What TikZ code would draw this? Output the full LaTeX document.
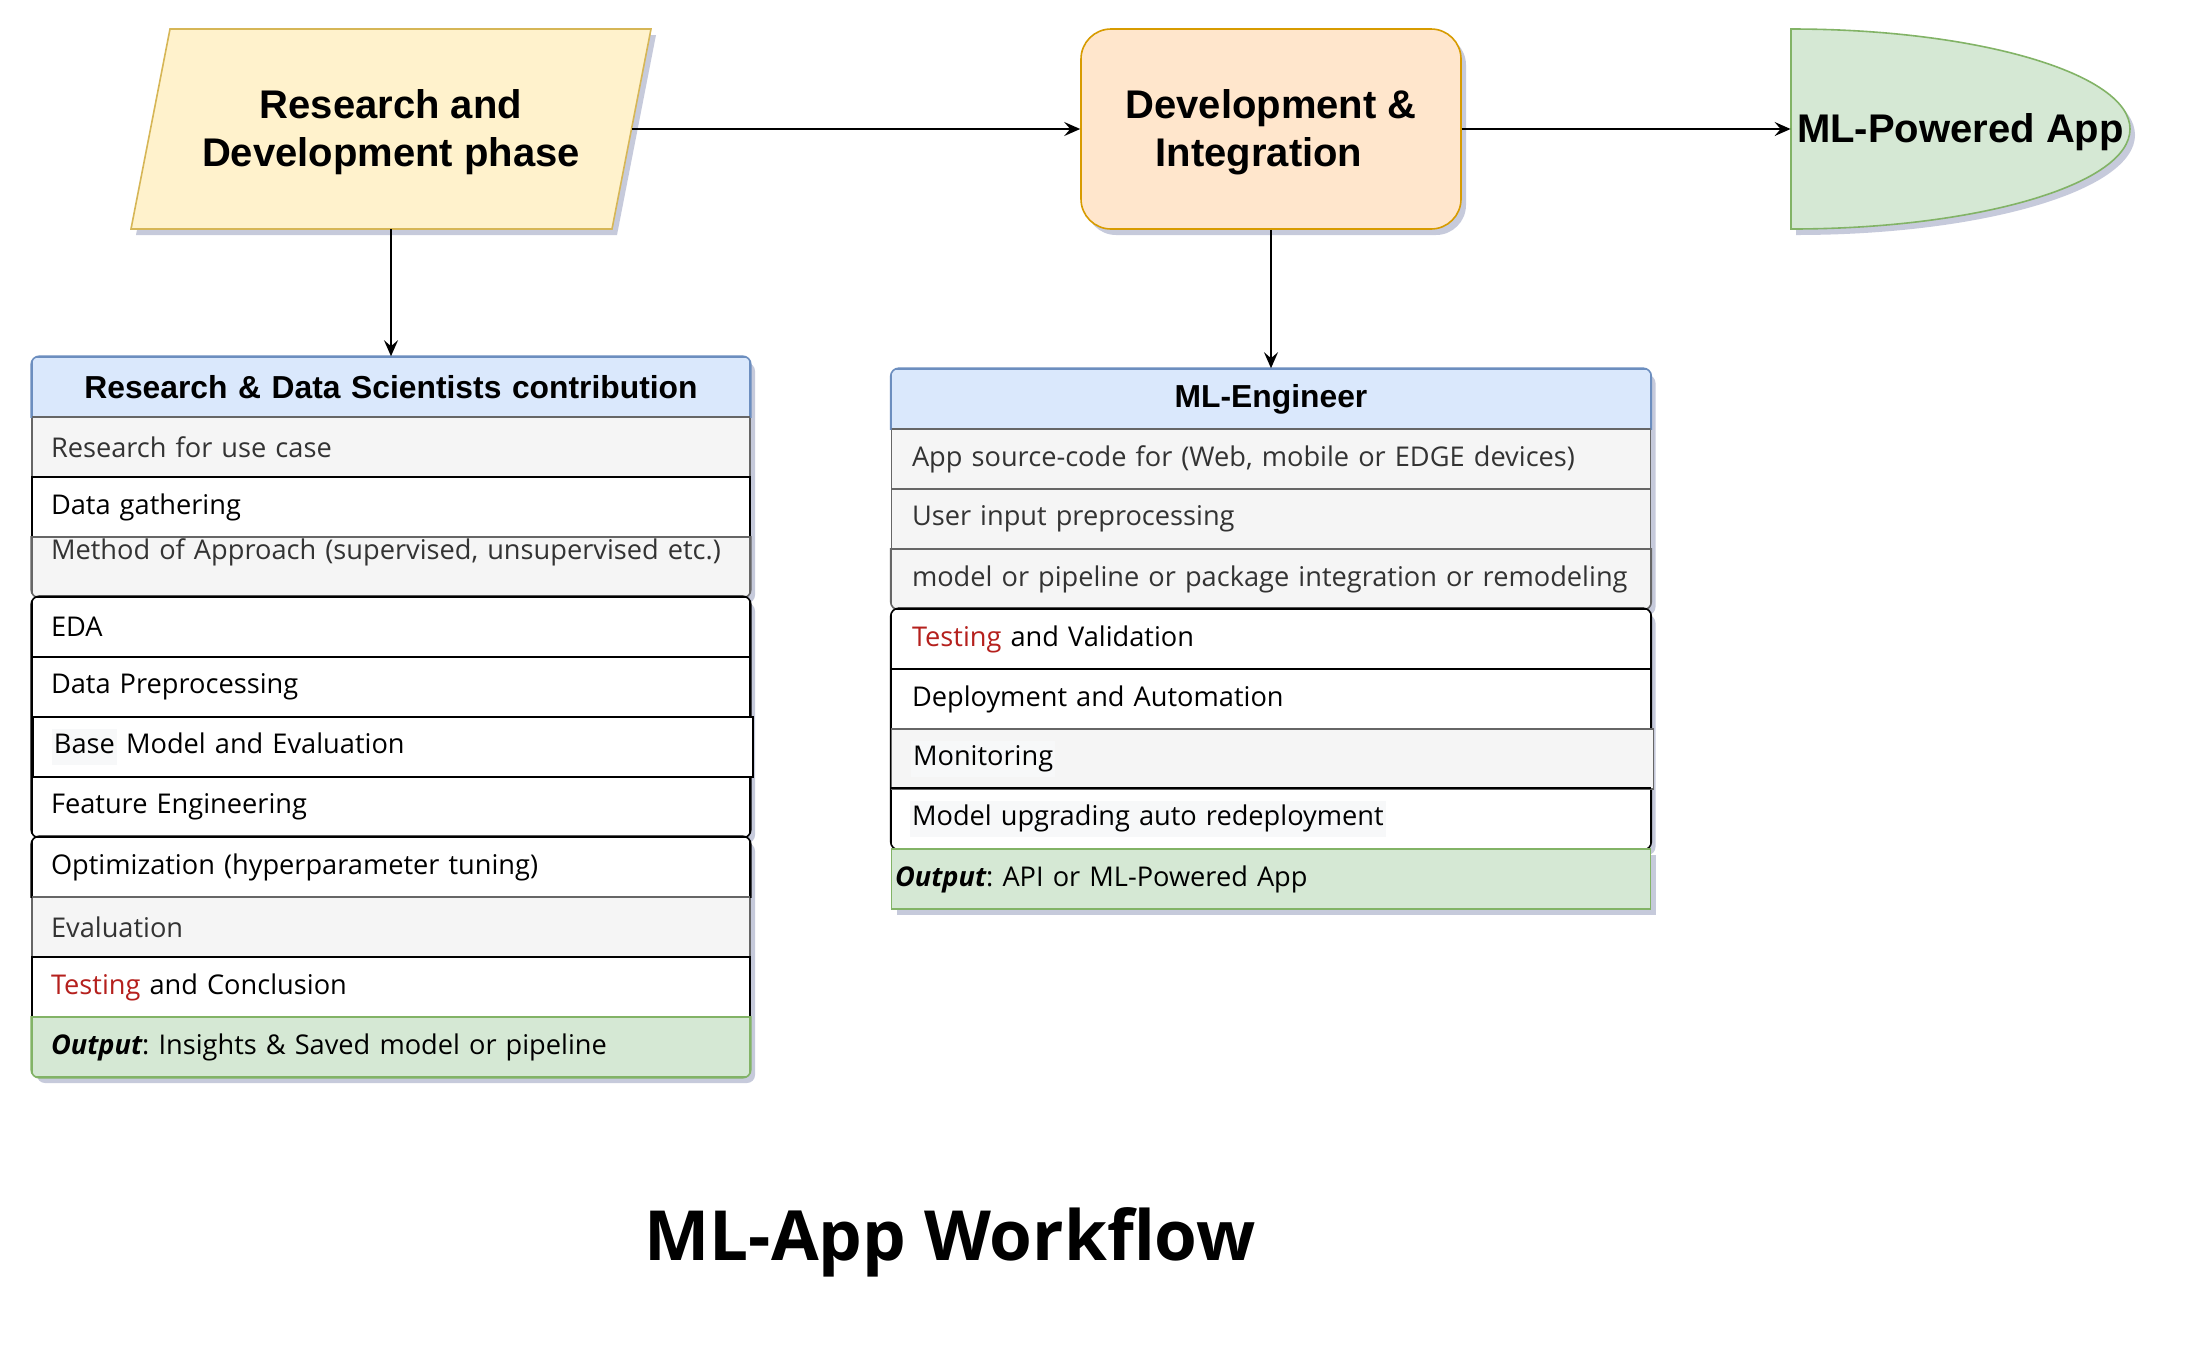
\documentclass[tikz,border=0pt]{standalone}
\usepackage{fontspec}
\usetikzlibrary{shadows,arrows.meta}

\newfontfamily\handfont{Open Sans}
\newfontfamily\headfont{Liberation Sans}
\frenchspacing

\definecolor{phasefill}{HTML}{FFF2CC}
\definecolor{phaseline}{HTML}{D6B656}
\definecolor{devfill}{HTML}{FFE6CC}
\definecolor{devline}{HTML}{D79B00}
\definecolor{appfill}{HTML}{D5E8D4}
\definecolor{appline}{HTML}{82B366}
\definecolor{headfill}{HTML}{DAE8FC}
\definecolor{headline}{HTML}{6C8EBF}
\definecolor{cellfill}{HTML}{F5F5F5}
\definecolor{cellline}{HTML}{666666}
\definecolor{celltext}{HTML}{333333}
\definecolor{testred}{HTML}{B5201D}
\definecolor{markfill}{HTML}{F7F8F9}
\definecolor{shadowcol}{RGB}{175,180,205}

\newcommand{\marked}[1]{{\setlength{\fboxsep}{1pt}\hspace*{-1pt}\colorbox{markfill}{\strut #1}}}

\begin{document}
\begin{tikzpicture}[x=0.5pt, y=-0.5pt, >={Stealth[length=8pt,width=7pt,inset=3pt]},
    boxshadow/.style={drop shadow={shadow xshift=2.5pt, shadow yshift=-3pt, fill=shadowcol, opacity=0.7}},
    bigtext/.style={font=\headfont\fontsize{20}{24}\selectfont\bfseries, align=center, text depth=1.2pt},
    phasetext/.style={bigtext, rectangle, minimum width=240.5pt, minimum height=100pt, inner sep=0pt},
    devbox/.style={bigtext, rectangle, rounded corners=15pt, minimum width=190pt, minimum height=100pt, fill=devfill, draw=devline, line width=0.8pt, boxshadow},
    apptext/.style={bigtext, rectangle, minimum width=169.5pt, minimum height=100pt, inner sep=0pt},
    row/.style={rectangle, line width=0.8pt, minimum height=30pt, inner ysep=0pt, align=left, font=\handfont\fontsize{13.6}{16}\selectfont},
    rcol/.style={row, inner xsep=9.5pt, text width=340pt},
    mcol/.style={row, inner xsep=10.25pt, text width=359pt},
    headcell/.style={fill=headfill, draw=headline, align=center, font=\headfont\fontsize{15.9}{18}\selectfont\bfseries},
    graycell/.style={fill=cellfill, draw=cellline, text=celltext},
    methodcell/.style={graycell, text depth=17.5pt},
    whitecell/.style={fill=white, draw=black},
    outcell/.style={fill=appfill, draw=appline},
    groupline/.style={line width=0.8pt, rounded corners=4pt},
    link/.style={->, line width=0.9pt},
    titletext/.style={font=\handfont\fontsize{34.6}{40}\selectfont\bfseries, anchor=base}
]

    % Paints the page white and fixes its size
    \fill[white] (0,0) rectangle (2200,1346);
    \useasboundingbox (0,0) rectangle (2200,1346);

    % Draws the outlines of the first and last stage
    \path[boxshadow, fill=phasefill, draw=phaseline, line width=0.8pt] (131,229) -- (170,29) -- (651,29) -- (612,229) -- cycle;
    \path[boxshadow, fill=appfill, draw=appline, line width=0.8pt] (1791,29) -- (1791,229) arc[start angle=90, end angle=-90, x radius=339, y radius=100] -- cycle;

    % Draws the three stages of the top row
    \node[phasetext] (phase) at (391,129) {Research and\\Development phase};
    \node[devbox] (dev) at (1271,129) {Development \&\\Integration\hspace*{12pt}};
    \node[apptext] (app) at (1960.5,129) {ML-Powered App};

    % Draws the first group of the research column
    \path[boxshadow, rounded corners=4pt] (32,357) rectangle (750,597);
    \begin{scope}
        % Clips the group to its rounded outline
        \clip[rounded corners=4.5pt] (31,356) rectangle (751,598);

        % For each row of the group
        \foreach \y/\st/\txt [count=\i] in {387/headcell/{Research \& Data Scientists contribution}, 447/graycell/{Research for use case}, 507/whitecell/{Data gathering}, 567/methodcell/{Method of Approach (supervised, unsupervised etc.)}} {

            % Draws the row at its height in the column
            \node[rcol, \st] (ra\i) at (391,\y) {\txt};

        }
    \end{scope}
    \draw[groupline, headline] (ra1.south west) |- (ra1.north east) -- (ra1.south east);
    \draw[groupline, cellline] (ra4.north west) |- (ra4.south east) -- (ra4.north east);

    % Draws the second group of the research column
    \path[boxshadow, rounded corners=4pt] (32,597) rectangle (750,837);
    \begin{scope}
        \clip[rounded corners=4.5pt] (31,596) rectangle (751,838);
        \foreach \y/\txt [count=\i] in {627/EDA, 687/Data Preprocessing, 807/Feature Engineering} {
            \node[rcol, whitecell] (rb\i) at (391,\y) {\txt};
        }
    \end{scope}
    \draw[groupline] (rb1.north west) rectangle (rb3.south east);

    % Draws the row that stands out of the group
    \node[rcol, whitecell, inner xsep=10.5pt, text width=339pt] (rbase) at (393,747) {\marked{Base} Model and Evaluation};

    % Draws the third group of the research column
    \path[boxshadow, rounded corners=4pt] (32,837) rectangle (750,1077);
    \begin{scope}
        \clip[rounded corners=4.5pt] (31,836) rectangle (751,1078);
        \foreach \y/\st/\txt [count=\i] in {867/whitecell/{Optimization (hyperparameter tuning)}, 927/graycell/{Evaluation}, 987/whitecell/{\textcolor{testred}{Testing} and Conclusion}, 1047/outcell/{{\bfseries\itshape Output}: Insights \& Saved model or pipeline}} {
            \node[rcol, \st] (rc\i) at (391,\y) {\txt};
        }
    \end{scope}
    \draw[groupline, black] (rc1.south west) |- (rc1.north east) -- (rc1.south east);
    \draw[groupline, appline] (rc4.north west) |- (rc4.south east) -- (rc4.north east);

    % Draws the first group of the engineer column
    \path[boxshadow, rounded corners=4pt] (891.5,369) rectangle (1650.5,609);
    \begin{scope}
        \clip[rounded corners=4.5pt] (890.5,368) rectangle (1651.5,610);
        \foreach \y/\st/\txt [count=\i] in {399/headcell/{ML-Engineer}, 459/graycell/{App source-code for (Web, mobile or EDGE devices)}, 519/graycell/{User input preprocessing}, 579/graycell/{model or pipeline or package integration or remodeling}} {
            \node[mcol, \st] (ma\i) at (1271,\y) {\txt};
        }
    \end{scope}
    \draw[groupline, headline] (ma1.south west) |- (ma1.north east) -- (ma1.south east);
    \draw[groupline, cellline] (ma4.north west) |- (ma4.south east) -- (ma4.north east);

    % Draws the second group of the engineer column
    \path[boxshadow, rounded corners=4pt] (891.5,609) rectangle (1650.5,849);
    \begin{scope}
        \clip[rounded corners=4.5pt] (890.5,608) rectangle (1651.5,850);
        \foreach \y/\txt [count=\i] in {639/{\textcolor{testred}{Testing} and Validation}, 699/{Deployment and Automation}, 819/{\marked{Model upgrading auto redeployment}}} {
            \node[mcol, whitecell] (mb\i) at (1271,\y) {\txt};
        }
    \end{scope}
    \draw[groupline] (mb1.north west) rectangle (mb3.south east);

    % Draws the rows that stand out of the group
    \node[mcol, graycell, text=black, inner xsep=10.75pt, text width=359.5pt] (monitor) at (1272.5,759) {\marked{Monitoring}};
    \draw[line width=0.8pt] (mb3.north west) -- (mb3.north east);
    \node[mcol, outcell, boxshadow, inner xsep=1.75pt, text width=376pt] (mout) at (1271,879) {{\bfseries\itshape Output}: API or ML-Powered App};

    % Draws the links between the stages
    \draw[link] (phase) -- (dev);
    \draw[link] (dev) -- (app);
    \draw[link] (phase.south) -- (ra1.north);
    \draw[link] (dev.south) -- (ma1.north);

    % Draws the title
    \node[titletext] (title) at (950,1260) {ML-App Workflow};

\end{tikzpicture}
\end{document}
